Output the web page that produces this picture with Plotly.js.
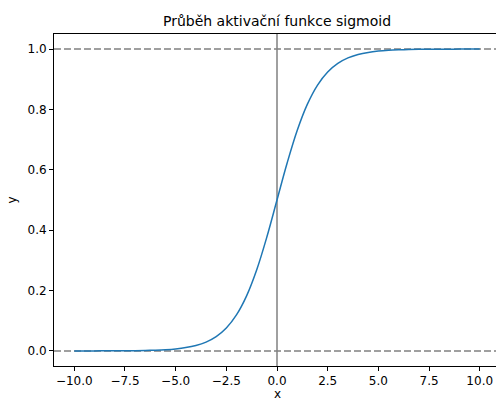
<!DOCTYPE html>
<html>
<head>
<meta charset="utf-8">
<script src="https://cdn.plot.ly/plotly-3.0.1.min.js"></script>
<style>
html,body{margin:0;padding:0;overflow:hidden;background:#fff;}
#chart{width:500px;height:399px;}
</style>
</head>
<body>
<div id="chart"></div>
<script>
const xValues = [-10,-9.5,-9,-8.5,-8,-7.5,-7,-6.5,-6,-5.5,-5,-4.5,-4,-3.5,-3,-2.5,-2,-1.5,-1,-0.5,0,0.5,1,1.5,2,2.5,3,3.5,4,4.5,5,5.5,6,6.5,7,7.5,8,8.5,9,9.5,10];
const yValues = [0.0000,0.0001,0.0001,0.0002,0.0003,0.0006,0.0009,0.0015,0.0025,0.0041,0.0067,0.0110,0.0180,0.0293,0.0474,0.0759,0.1192,0.1824,0.2689,0.3775,0.5000,0.6225,0.7311,0.8176,0.8808,0.9241,0.9526,0.9707,0.9820,0.9890,0.9933,0.9959,0.9975,0.9985,0.9991,0.9994,0.9997,0.9998,0.9999,0.9999,1.0000];
const hLevels = [0, 1];
const vLevels = [0];
const xTicks = [-10,-7.5,-5,-2.5,0,2.5,5,7.5,10];
const xTickText = ['\u221210.0','\u22127.5','\u22125.0','\u22122.5','0.0','2.5','5.0','7.5','10.0'];
const yTicks = [0,0.2,0.4,0.6,0.8,1.0];
const yTickText = ['0.0','0.2','0.4','0.6','0.8','1.0'];

const shapes = [];
hLevels.forEach(v => shapes.push({type:'line', xref:'paper', yref:'y', x0:0, x1:1, y0:v, y1:v, layer:'below',
  line:{color:'#808080', width:1.5, dash:'7px,3px'}}));
vLevels.forEach(v => shapes.push({type:'line', xref:'x', yref:'paper', x0:v, x1:v, y0:0, y1:1, layer:'below',
  line:{color:'#808080', width:1.5}}));

const font = {family:'DejaVu Sans', size:12, color:'#000'};
Plotly.newPlot('chart', [{
  x: xValues, y: yValues, type:'scatter', mode:'lines', line:{color:'#1f77b4', width:1.5, shape:'spline'}, hoverinfo:'skip'
}], {
  width:500, height:399,
  margin:{l:54, r:0, t:34, b:33},
  paper_bgcolor:'#fff', plot_bgcolor:'#fff',
  showlegend:false,
  font: font,
  title:{text:'Průběh aktivační funkce sigmoid', font:{family:'DejaVu Sans', size:14, color:'#000'},
    x:0.5, xref:'paper', y:1-21/399, yref:'container', yanchor:'middle', xanchor:'center'},
  xaxis:{range:[-11,11], tickvals:xTicks, ticktext:xTickText, ticks:'outside', ticklen:4, tickcolor:'#000',
    showline:true, linecolor:'#000', linewidth:1, mirror:true, showgrid:false, zeroline:false},
  yaxis:{range:[-0.05,1.05], tickvals:yTicks, ticktext:yTickText, ticks:'outside', ticklen:4, tickcolor:'#000',
    showline:true, linecolor:'#000', linewidth:1, mirror:true, showgrid:false, zeroline:false,
    title:{text:'y', font:font, standoff:8}},
  annotations:[{text:'x', xref:'x', x:0, yref:'paper', y:0, yanchor:'top', xanchor:'center', yshift:-19,
    showarrow:false, font:font}],
  shapes: shapes
}, {staticPlot:true});
</script>
</body>
</html>
